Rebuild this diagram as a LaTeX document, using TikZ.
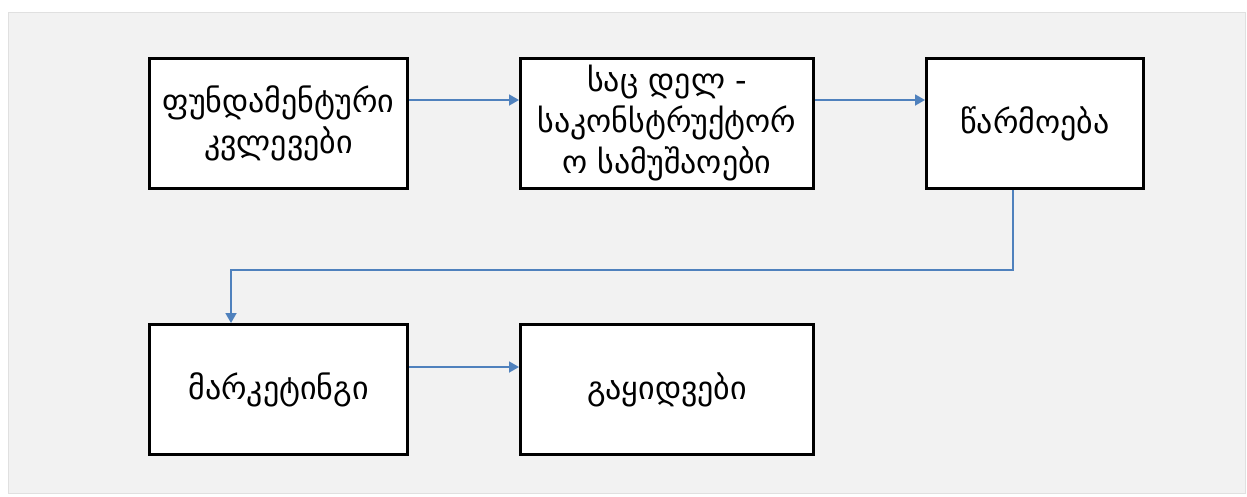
\documentclass[tikz,border=0pt]{standalone}
\usepackage{fontspec}
\newfontfamily\geo[Script=Georgian]{DejaVu Sans}
\usetikzlibrary{arrows.meta}
\definecolor{bg}{HTML}{F2F2F2}
\definecolor{arr}{HTML}{4F81BD}
\tikzset{
  box/.style={draw=black, line width=3pt, fill=white, minimum width=258pt, minimum height=130pt, inner sep=0pt, align=center, font=\geo\fontsize{32pt}{41pt}\selectfont, anchor=north west},
  conn/.style={draw=arr, line width=1.8pt, -{Triangle[length=10pt,width=11pt]}}
}
\begin{document}
\begin{tikzpicture}[x=1pt,y=-1pt]
\useasboundingbox (0,0) rectangle (1247,496);
\fill[white] (0,0) rectangle (1247,496);
\filldraw[fill=bg, draw=black!12, line width=1pt] (8,12) rectangle (1245,493);
\node[box] (a) at (148,57) {ფუნდამენტური\\კვლევები};
\node[box, minimum width=293pt] (b) at (519,57) {საც დელ -\\საკონსტრუქტორ\\ო სამუშაოები};
\node[box, minimum width=217pt] (c) at (925,57) {წარმოება};
\node[box] (d) at (148,323) {მარკეტინგი};
\node[box, minimum width=293pt] (e) at (519,323) {გაყიდვები};
\coordinate (k1) at (1013,270);
\coordinate (k2) at (231,270);
\draw[conn] (a.east |- 0,100) -- (b.west |- 0,100);
\draw[conn] (b.east |- 0,100) -- (c.west |- 0,100);
\draw[conn] (d.east |- 0,367) -- (e.west |- 0,367);
\draw[conn] (c.south -| k1) -- (k1) -- (k2) -- (d.north -| k2);
\end{tikzpicture}
\end{document}
